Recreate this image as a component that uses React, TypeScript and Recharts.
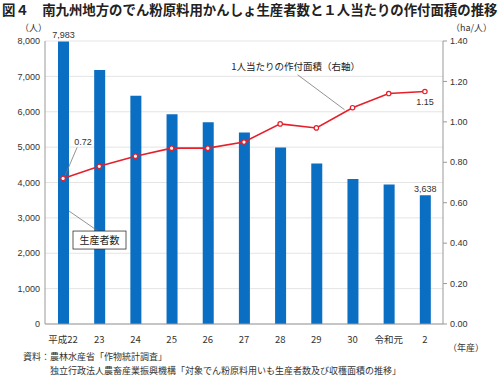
import React from "react";
import {
  ComposedChart, Bar, Line, XAxis, YAxis, CartesianGrid, LabelList,
} from "recharts";

const years = ["平成22", "23", "24", "25", "26", "27", "28", "29", "30", "令和元", "2"];
const producers = [7983, 7180, 6450, 5930, 5700, 5410, 4990, 4540, 4100, 3940, 3638];
const areaPerPerson = [0.72, 0.78, 0.83, 0.87, 0.87, 0.9, 0.99, 0.97, 1.07, 1.14, 1.15];
const leftTicks = [0, 1000, 2000, 3000, 4000, 5000, 6000, 7000, 8000];
const rightTicks = [0, 0.2, 0.4, 0.6, 0.8, 1.0, 1.2, 1.4];

const data = years.map((y, i) => ({ year: y, producers: producers[i], area: areaPerPerson[i] }));

const FONT = '"Liberation Sans", "Noto Sans CJK JP", sans-serif';
const JP = '"Noto Sans CJK JP", sans-serif';
const BLUE = "#0A6EC2";
const RED = "#E5202B";

// labels + leader lines for the bar series
function BarLabel(props: any) {
  const { x, y, width, height, index } = props;
  const cx = x + width / 2;
  if (index === 0) {
    const ly = y + height * 0.6;
    return (
      <g>
        <text x={cx} y={y - 4} textAnchor="middle" fontSize={9} fill="#333" fontFamily={FONT}>7,983</text>
        <line x1={x + width} y1={ly} x2={x + width + 29} y2={ly + 20} stroke="#777" strokeWidth={0.8} />
        <rect x={x + width + 4} y={ly + 20} width={53} height={18} fill="#fff" stroke="#333" strokeWidth={0.8} />
        <text x={x + width + 30.5} y={ly + 33} textAnchor="middle" fontSize={10} fill="#222" fontFamily={JP}>生産者数</text>
      </g>
    );
  }
  if (index === producers.length - 1) {
    return (
      <text x={cx} y={y - 3} textAnchor="middle" fontSize={9} fill="#333" fontFamily={FONT}>3,638</text>
    );
  }
  return null;
}

function LineLabel(props: any) {
  const { x, y, index } = props;
  if (index === 0) {
    return (
      <g>
        <line x1={x + 2} y1={y - 3} x2={x + 14} y2={y - 31} stroke="#777" strokeWidth={0.8} />
        <text x={x + 20} y={y - 33} textAnchor="middle" fontSize={9} fill="#333" fontFamily={FONT}>0.72</text>
      </g>
    );
  }
  if (index === 8) {
    return (
      <g>
        <line x1={x - 55} y1={y - 33} x2={x - 8} y2={y + 2} stroke="#777" strokeWidth={0.8} />
        <text x={x - 57} y={y - 38} textAnchor="middle" fontSize={9.5} fill="#222" fontFamily={JP}>1人当たりの作付面積（右軸）</text>
      </g>
    );
  }
  if (index === areaPerPerson.length - 1) {
    return (
      <text x={x} y={y + 13} textAnchor="middle" fontSize={9} fill="#333" fontFamily={FONT}>1.15</text>
    );
  }
  return null;
}

export default function App() {
  return (
    <div style={{ position: "absolute", left: 0, top: 0, width: 500, height: 377, background: "#fff", fontFamily: JP, overflow: "hidden" }}>
      <div style={{ position: "absolute", left: 2, top: 0, fontSize: 13.4, fontWeight: 700, color: "#222", whiteSpace: "nowrap", lineHeight: "18px" }}>
        図４　南九州地方のでん粉原料用かんしょ生産者数と１人当たりの作付面積の推移
      </div>
      <div style={{ position: "absolute", left: 20, top: 21, fontSize: 9, color: "#333" }}>（人）</div>
      <div style={{ position: "absolute", left: 451, top: 21, fontSize: 9, color: "#333" }}>（ha/人）</div>
      <ComposedChart
        width={500}
        height={377}
        data={data}
        margin={{ top: 41, right: 0, bottom: 33, left: 0 }}
        style={{ fontFamily: FONT }}
      >
        <CartesianGrid yAxisId="left" vertical={false} stroke="#e4e4e4" />
        <XAxis
          dataKey="year"
          height={20}
          tickLine={false}
          tickSize={0}
          tickMargin={12}
          axisLine={{ stroke: "#999" }}
          tick={{ fontSize: 9.5, fill: "#333", fontFamily: JP }}
          interval={0}
        />
        <YAxis
          yAxisId="left"
          width={45}
          domain={[0, 8000]}
          ticks={leftTicks}
          tickFormatter={(v: number) => v.toLocaleString("en-US")}
          tickLine={false}
          tickSize={0}
          tickMargin={5}
          axisLine={{ stroke: "#999" }}
          tick={{ fontSize: 9, fill: "#333" }}
        />
        <YAxis
          yAxisId="right"
          orientation="right"
          width={57}
          domain={[0, 1.4]}
          ticks={rightTicks}
          tickFormatter={(v: number) => v.toFixed(2)}
          tickSize={4}
          tickMargin={3}
          tickLine={{ stroke: "#999" }}
          axisLine={{ stroke: "#999" }}
          tick={{ fontSize: 9, fill: "#333" }}
        />
        <Bar yAxisId="left" dataKey="producers" fill={BLUE} barSize={11} isAnimationActive={false}>
          <LabelList dataKey="producers" content={BarLabel} />
        </Bar>
        <Line
          yAxisId="right"
          dataKey="area"
          stroke={RED}
          strokeWidth={1.6}
          dot={{ r: 2.2, fill: "#fff", stroke: RED, strokeWidth: 1.2 }}
          isAnimationActive={false}
        >
          <LabelList dataKey="area" content={LineLabel} />
        </Line>
      </ComposedChart>
      <div style={{ position: "absolute", left: 448, top: 341, fontSize: 9, color: "#333" }}>（年産）</div>
      <div style={{ position: "absolute", left: 23, top: 352, fontSize: 9, color: "#333", whiteSpace: "nowrap", lineHeight: "10px" }}>
        資料：農林水産省「作物統計調査」
      </div>
      <div style={{ position: "absolute", left: 50, top: 366, fontSize: 9, color: "#333", whiteSpace: "nowrap", lineHeight: "10px" }}>
        独立行政法人農畜産業振興機構「対象でん粉原料用いも生産者数及び収穫面積の推移」
      </div>
    </div>
  );
}
